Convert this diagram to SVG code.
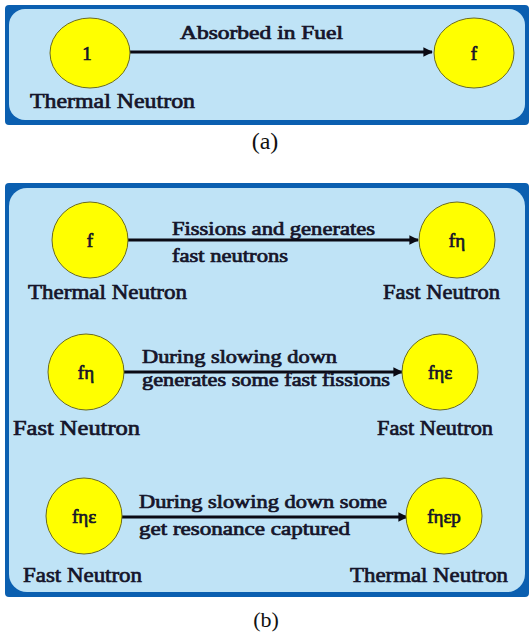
<svg xmlns="http://www.w3.org/2000/svg" width="531" height="632" viewBox="0 0 531 632">
<style>
.frame{fill:#0b5fb0}
.panel{fill:#bfe3f6}
.node{fill:#ffff00;stroke:#6b6b1e;stroke-width:1}
.t{font-family:"Liberation Serif",serif;font-weight:normal;fill:#15152a;stroke:#15152a;stroke-width:0.7}
.n{font-size:19px;text-anchor:middle}
.lbl{font-size:21px}
.el{font-size:18px}
.cap{font-family:"Liberation Serif",serif;fill:#111;text-anchor:middle}
.conn{stroke:#0a0a14;stroke-width:3.2;fill:none;marker-end:url(#ah)}
</style>
<defs>
<marker id="ah" viewBox="0 0 10 10" refX="9" refY="5" markerWidth="3.6" markerHeight="3" orient="auto" markerUnits="strokeWidth">
<path d="M0,0 L10,5 L0,10 z" fill="#0a0a14"/>
</marker>
</defs>
<rect width="531" height="632" fill="#ffffff"/>

<!-- Panel (a) -->
<g id="panel-a">
<rect class="frame" x="5" y="5" width="524" height="120" rx="4"/>
<rect class="panel" x="9" y="9" width="516" height="111" rx="16"/>
</g>
<g id="connectors-a">
<line class="conn" x1="130" y1="52" x2="432" y2="52"/>
</g>
<text class="t el" x="180" y="39" textLength="163" lengthAdjust="spacingAndGlyphs">Absorbed in Fuel</text>
<g id="node-a1">
<ellipse class="node" cx="90" cy="53" rx="40" ry="35"/>
<text class="t n" x="87" y="60">1</text>
<text class="t lbl" x="30" y="108" textLength="165" lengthAdjust="spacingAndGlyphs">Thermal Neutron</text>
</g>
<g id="node-af">
<ellipse class="node" cx="474" cy="53" rx="40" ry="35"/>
<text class="t n" x="474" y="60">f</text>
</g>
<text class="cap" x="265" y="149" font-size="24">(a)</text>

<!-- Panel (b) -->
<g id="panel-b">
<rect class="frame" x="5" y="183" width="524" height="414" rx="4"/>
<rect class="panel" x="9" y="188" width="516" height="404" rx="18"/>
</g>
<g id="connectors-b">
<line class="conn" x1="128" y1="240" x2="418" y2="240"/>
<line class="conn" x1="124" y1="372" x2="402" y2="372"/>
<line class="conn" x1="122" y1="517" x2="407" y2="517"/>
</g>
<g id="edge-labels">
<text class="t el" x="172" y="235" textLength="203" lengthAdjust="spacingAndGlyphs">Fissions and generates</text>
<text class="t el" x="172" y="262" textLength="116" lengthAdjust="spacingAndGlyphs">fast neutrons</text>
<text class="t el" x="142" y="363" textLength="195" lengthAdjust="spacingAndGlyphs">During slowing down</text>
<text class="t el" x="142" y="386" textLength="248" lengthAdjust="spacingAndGlyphs">generates some fast fissions</text>
<text class="t el" x="139" y="508" textLength="248" lengthAdjust="spacingAndGlyphs">During slowing down some</text>
<text class="t el" x="139" y="535" textLength="211" lengthAdjust="spacingAndGlyphs">get resonance captured</text>
</g>
<g id="node-b1">
<circle class="node" cx="90" cy="240" r="38"/>
<text class="t n" x="90" y="247">f</text>
<text class="t lbl" x="28" y="299" textLength="159" lengthAdjust="spacingAndGlyphs">Thermal Neutron</text>
</g>
<g id="node-b2">
<circle class="node" cx="457" cy="240" r="38"/>
<text class="t n" x="457" y="247">fη</text>
<text class="t lbl" x="383" y="299" textLength="117" lengthAdjust="spacingAndGlyphs">Fast Neutron</text>
</g>
<g id="node-b3">
<circle class="node" cx="86" cy="372" r="38"/>
<text class="t n" x="86" y="379">fη</text>
<text class="t lbl" x="13" y="435" textLength="127" lengthAdjust="spacingAndGlyphs">Fast Neutron</text>
</g>
<g id="node-b4">
<circle class="node" cx="440" cy="372" r="38"/>
<text class="t n" x="440" y="379">fηε</text>
<text class="t lbl" x="377" y="435" textLength="116" lengthAdjust="spacingAndGlyphs">Fast Neutron</text>
</g>
<g id="node-b5">
<circle class="node" cx="84" cy="516" r="38"/>
<text class="t n" x="84" y="523">fηε</text>
<text class="t lbl" x="23" y="582" textLength="119" lengthAdjust="spacingAndGlyphs">Fast Neutron</text>
</g>
<g id="node-b6">
<circle class="node" cx="444" cy="516" r="38"/>
<text class="t n" x="444" y="523">fηεp</text>
<text class="t lbl" x="350" y="582" textLength="158" lengthAdjust="spacingAndGlyphs">Thermal Neutron</text>
</g>
<text class="cap" x="266" y="627" font-size="22">(b)</text>
</svg>
